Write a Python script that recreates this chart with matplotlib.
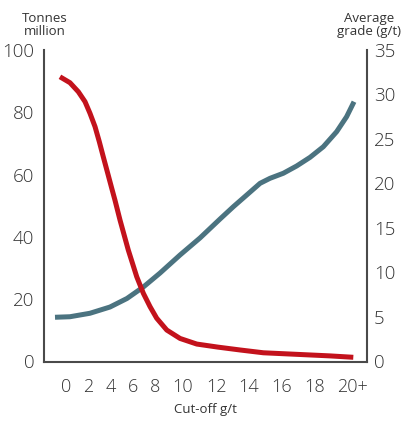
import matplotlib
matplotlib.use("Agg")
import matplotlib.pyplot as plt
import numpy as np

# ---- Data ----
# Tonnes (million) vs cut-off grade
tonnes_x = [-0.55, 0.36, 1.12, 1.73, 2.17, 2.61, 2.98, 3.33, 3.68, 4.06, 4.36, 4.82, 5.57,
            6.34, 6.94, 7.55, 8.12, 8.84, 9.79, 10.81, 12.08, 13.44, 14.87, 16.89, 18.81, 20.07]
tonnes = [91.4, 89.5, 86.6, 83.4, 79.7, 75.4, 70.6, 65.7, 60.9, 55.7, 51.8, 45.4, 35.8,
          27.2, 21.9, 17.6, 13.9, 10.1, 7.4, 5.6, 4.6, 3.7, 2.8, 2.3, 1.8, 1.35]

# Average grade (g/t) vs cut-off grade
grade_x = [-1.0, 0.36, 2.17, 3.91, 5.45, 6.94, 8.36, 9.79, 11.0, 12.19, 13.02, 13.86, 14.67,
           15.27, 16.08, 16.89, 17.70, 18.45, 19.17, 19.71, 20.11]
grade = [4.97, 5.03, 5.42, 6.12, 7.08, 8.37, 9.94, 11.97, 13.88, 16.01, 17.39, 18.71, 20.02,
         20.58, 21.15, 21.97, 22.94, 24.13, 25.82, 27.51, 29.19]

x_ticks = [0, 2, 4, 6, 8, 10, 12, 14, 16, 18, 20]
x_ticklabels = ["0", "2", "4", "6", "8", "10", "12", "14", "16", "18", "20+"]
left_ticks = [0, 20, 40, 60, 80, 100]
right_ticks = [0, 5, 10, 15, 20, 25, 30, 35]

# ---- Layout: the original x axis is not uniform (labels evenly gapped) ----
SCALE_POS = np.array([66, 88, 111, 133, 155, 183, 217, 249, 282, 315, 352], dtype=float)
SCALE_VAL = np.array(x_ticks, dtype=float)


def _interp_ext(v, xs, ys):
    v = np.asarray(v, dtype=float)
    out = np.interp(v, xs, ys)
    lo = v < xs[0]
    hi = v > xs[-1]
    s0 = (ys[1] - ys[0]) / (xs[1] - xs[0])
    s1 = (ys[-1] - ys[-2]) / (xs[-1] - xs[-2])
    out = np.where(lo, ys[0] + (v - xs[0]) * s0, out)
    out = np.where(hi, ys[-1] + (v - xs[-1]) * s1, out)
    return out


def fwd(v):
    return _interp_ext(v, SCALE_VAL, SCALE_POS)


def inv(p):
    return _interp_ext(p, SCALE_POS, SCALE_VAL)


RED = "#C3121C"
TEAL = "#4B7380"
AX = "#4a4a4a"
TXT = "#333333"

plt.rcParams['font.family'] = ['Open Sans', 'DejaVu Sans']

fig = plt.figure(figsize=(4.05, 4.22), dpi=100)
ax = fig.add_axes([44/405, 60.5/422, 323/405, 311.5/422])
ax.set_xscale('function', functions=(fwd, inv))
ax2 = ax.twinx()

ax2.plot(grade_x, grade, color=TEAL, lw=3.6, solid_capstyle='butt', solid_joinstyle='round')
ax.plot(tonnes_x, tonnes, color=RED, lw=3.6, solid_capstyle='butt', solid_joinstyle='round')
ax.set_zorder(ax2.get_zorder() + 1)
ax.patch.set_visible(False)

ax.set_xlim(inv(44.0), inv(367.0))
ax.set_ylim(0, 100)
ax2.set_ylim(0, 35)

for a in (ax, ax2):
    a.spines['top'].set_visible(False)
    for s in a.spines.values():
        s.set_color(AX)
        s.set_linewidth(1.5)
ax2.spines['left'].set_visible(False)
ax2.spines['bottom'].set_visible(False)
ax.spines['right'].set_visible(False)

ax.set_xticks(x_ticks)
ax.set_xticklabels(x_ticklabels)
ax.xaxis.set_minor_locator(matplotlib.ticker.NullLocator())
ax.set_yticks(left_ticks)
ax2.set_yticks(right_ticks)

ax.tick_params(axis='x', length=0, pad=12, labelsize=13, labelcolor=TXT)
ax.tick_params(axis='y', length=0, pad=7, labelsize=13.5, labelcolor=TXT)
ax2.tick_params(axis='y', length=0, pad=5, labelsize=13.5, labelcolor=TXT)

for lab in ax.get_xticklabels() + ax.get_yticklabels() + ax2.get_yticklabels():
    lab.set_fontweight('light')

fig.text(44.5/405, 1 - 25/422, "Tonnes\nmillion", ha='center', va='center', fontsize=9.5,
         color=TXT, linespacing=1.0)
fig.text(369/405, 1 - 25/422, "Average\ngrade (g/t)", ha='center', va='center', fontsize=9.5,
         color=TXT, linespacing=1.0)
fig.text(205/405, 1 - 410/422, "Cut-off g/t", ha='center', va='center', fontsize=9.5, color=TXT)

fig.savefig("out.png", dpi=100)
